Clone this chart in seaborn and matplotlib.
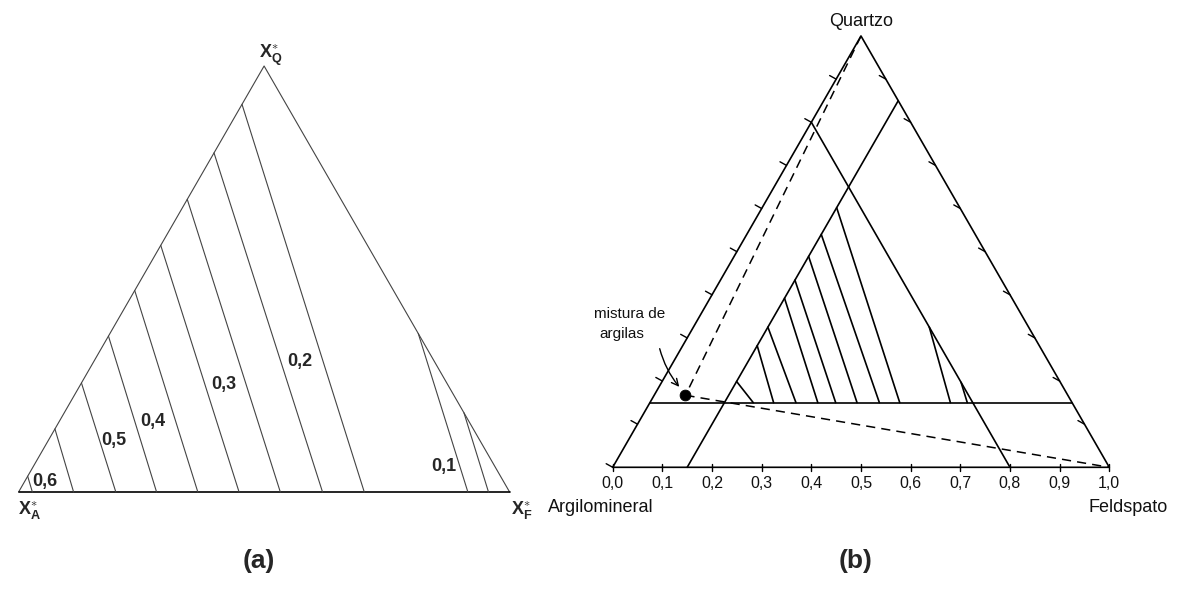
import numpy as np
import pandas as pd
import matplotlib
matplotlib.use("Agg")
import matplotlib.pyplot as plt
import seaborn as sns

sns.set_theme(style="white")
plt.rcParams["font.family"] = ["Liberation Sans", "DejaVu Sans"]
plt.rcParams["mathtext.fontset"] = "custom"
plt.rcParams["mathtext.rm"] = "Liberation Sans"
plt.rcParams["mathtext.bf"] = "Liberation Sans:bold"
plt.rcParams["mathtext.it"] = "Liberation Sans:italic"

# ---------------- data : panel (a) (normalised X*_A - X*_F - X*_Q triangle)
a_left_q = [0.037, 0.148, 0.256, 0.366, 0.473, 0.579, 0.687, 0.796, 0.910]   # X*_Q where tie line leaves left side
a_left_f = [0.028, 0.112, 0.198, 0.281, 0.365, 0.449, 0.533, 0.619, 0.704]   # X*_F where it meets the base
a_right_q = [0.372, 0.186]                                                   # X*_Q on right side
a_right_f = [0.915, 0.957]                                                   # X*_F on base
a_labels = ["0,6", "0,5", "0,4", "0,3", "0,2", "0,1"]
a_label_x = [0.053, 0.194, 0.273, 0.418, 0.573, 0.865]
a_label_y = [0.025, 0.121, 0.165, 0.252, 0.307, 0.060]

# ---------------- data : panel (b) (full ternary Argilomineral-Feldspato-Quartzo)
b_ticks = [0.0, 0.1, 0.2, 0.3, 0.4, 0.5, 0.6, 0.7, 0.8, 0.9, 1.0]
b_tick_labels = ["0,0", "0,1", "0,2", "0,3", "0,4", "0,5", "0,6", "0,7", "0,8", "0,9", "1,0"]
q_cut = 0.15      # constant quartz line
f_cut = 0.15      # constant feldspar line
a_cut = 0.20      # constant clay line
b_tie_q = [0.602, 0.540, 0.489, 0.434, 0.392, 0.325, 0.282, 0.199]
b_tie_f = [0.503, 0.462, 0.417, 0.374, 0.338, 0.294, 0.249, 0.208]
b_rtie_q = [0.325, 0.197]
b_rtie_f = [0.605, 0.639]
mix_f, mix_q = 0.063, 0.167   # "mistura de argilas"

SQ = np.sqrt(3) / 2
W, H = 1179, 599


def tern(F, Q):
    return F + Q / 2.0, Q * SQ


def seg_df(segs):
    rows = []
    for i, (xs, ys) in enumerate(segs):
        for x, y in zip(xs, ys):
            rows.append({"seg": i, "x": x, "y": y})
    return pd.DataFrame(rows)


def draw(ax, segs, **kw):
    df = seg_df(segs)
    sns.lineplot(data=df, x="x", y="y", units="seg", estimator=None, sort=False,
                 legend=False, ax=ax, clip_on=False, **kw)


fig = plt.figure(figsize=(W / 100, H / 100), dpi=100)
fig.patch.set_facecolor("white")


def ftext(px, py, s, **kw):
    fig.text(px / W, 1 - py / H, s, **kw)


# ---------------- panel (a)
ax_a = fig.add_axes([18.6 / W, (H - 492) / H, 491 / W, 426 / H])
sides = [([0, 0.5, 1], [0, 1, 0])]
draw(ax_a, sides, color="#444444", linewidth=0.8)
draw(ax_a, [([0, 1], [0, 0])], color="black", linewidth=1.2)
ties_a = [([q / 2, f], [q, 0]) for q, f in zip(a_left_q, a_left_f)]
ties_a += [([1 - q / 2, f], [q, 0]) for q, f in zip(a_right_q, a_right_f)]
draw(ax_a, ties_a, color="#444444", linewidth=0.8)
for lab, x, y in zip(a_labels, a_label_x, a_label_y):
    ax_a.text(x, y, lab, fontsize=13, fontweight="bold", ha="center", va="center")
ax_a.set_xlim(0, 1)
ax_a.set_ylim(0, 1)
ax_a.axis("off")

ftext(259, 58, r"$\mathbf{X}^{\ast}_{\mathbf{Q}}$", fontsize=13, ha="left", va="baseline")
ftext(18, 514, r"$\mathbf{X}^{\ast}_{\mathbf{A}}$", fontsize=13, ha="left", va="baseline")
ftext(511, 514, r"$\mathbf{X}^{\ast}_{\mathbf{F}}$", fontsize=13, ha="left", va="baseline")

# ---------------- panel (b)
ax_b = fig.add_axes([612.7 / W, (H - 467.3) / H, 496.6 / W, 431.3 / H])
solid = []
solid.append(tern(np.array([0, 1, 0, 0]), np.array([0, 0, 1, 0])))
solid.append(tern(np.array([0, 1 - q_cut]), np.array([q_cut, q_cut])))
solid.append(tern(np.array([f_cut, f_cut]), np.array([0, 1 - f_cut])))
solid.append(tern(np.array([1 - a_cut, 0]), np.array([0, 1 - a_cut])))
for q, f in zip(b_tie_q, b_tie_f):
    solid.append(tern(np.array([f_cut, f]), np.array([q, q_cut])))
for q, f in zip(b_rtie_q, b_rtie_f):
    solid.append(tern(np.array([1 - a_cut - q, f]), np.array([q, q_cut])))
draw(ax_b, solid, color="black", linewidth=1.2)

ticks = []
d = np.array([-0.876, 0.482]) * 0.015
for t in b_ticks:
    ticks.append(([t, t], [-0.007, 0.007]))
    if t < 1:
        lx, ly = tern(0.0, t)
        ticks.append(([lx, lx + d[0]], [ly, ly + d[1]]))
    if 0 < t < 1:
        rx, ry = tern(1 - t, t)
        ticks.append(([rx, rx + d[0]], [ry, ry + d[1]]))
draw(ax_b, ticks, color="black", linewidth=1.0)

dashed = [tern(np.array([0.0, mix_f]), np.array([1.0, mix_q])),
          tern(np.array([mix_f, 1.0]), np.array([mix_q, 0.0]))]
draw(ax_b, dashed, color="black", linewidth=1.1, linestyle=(0, (6, 4)))

mx, my = tern(mix_f, mix_q)
sns.scatterplot(x=[mx], y=[my], color="black", s=60, ax=ax_b, zorder=5,
                edgecolor="black", legend=False, clip_on=False)

for t, lab in zip(b_ticks, b_tick_labels):
    ax_b.text(t, -0.033, lab, fontsize=11.5, ha="center", va="center", color="#111")

ax_b.set_xlim(0, 1)
ax_b.set_ylim(0, SQ)
ax_b.axis("off")


def px_b(px, py):
    return (px - 612.7) / 496.6, (467.3 - py) / 431.3 * SQ


ax_b.annotate("", xy=px_b(681, 389), xytext=px_b(659, 346),
              arrowprops=dict(arrowstyle="->", color="black", lw=1.0,
                              connectionstyle="arc3,rad=0.12", mutation_scale=12),
              annotation_clip=False)

ftext(861, 22, "Quartzo", fontsize=13, ha="center", va="center", color="#111")
ftext(601, 508, "Argilomineral", fontsize=13, ha="center", va="center", color="#111")
ftext(1128, 508, "Feldspato", fontsize=13, ha="center", va="center", color="#111")
ftext(630, 314, "mistura de", fontsize=11, ha="center", va="center", color="#111")
ftext(622, 334, "argilas", fontsize=11, ha="center", va="center", color="#111")

ftext(259, 561, "(a)", fontsize=19, fontweight="bold", ha="center", va="center")
ftext(856, 561, "(b)", fontsize=19, fontweight="bold", ha="center", va="center")

fig.savefig("out.png", dpi=100, facecolor="white")
